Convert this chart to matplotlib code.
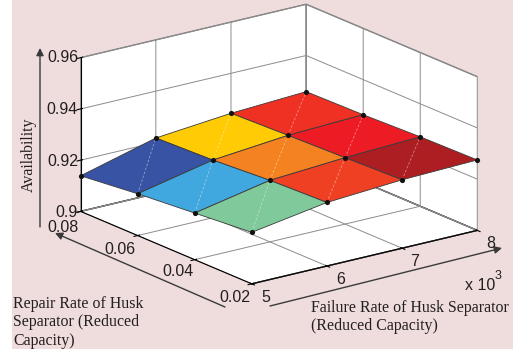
"""
Availability surface for the husk separator, failure rate vs repair rate.
"""

import numpy as np
import matplotlib
matplotlib.use("Agg")
import matplotlib.pyplot as plt
from matplotlib.colors import to_rgba
from matplotlib.patches import Rectangle, FancyArrowPatch

failure_rate = [5, 6, 7, 8]
repair_rate = [0.02, 0.04, 0.06, 0.08]

# rows follow repair_rate, columns follow failure_rate
availability = [
	[0.9201, 0.9248, 0.9267, 0.9275],
	[0.9182, 0.9240, 0.9259, 0.9271],
	[0.9163, 0.9225, 0.9252, 0.9263],
	[0.9139, 0.9217, 0.9244, 0.9259],
]

cell_colors = [
	["#7FC99B", "#F04023", "#AD1E23"],
	["#41A7DF", "#F58220", "#ED1C24"],
	["#3853A4", "#FFCB05", "#EF3123"],
]

z_ticks = [0.9, 0.92, 0.94, 0.96]
z_tick_labels = ["0.9", "0.92", "0.94", "0.96"]
y_tick_labels = ["0.02", "0.04", "0.06", "0.08"]
x_tick_labels = ["5", "6", "7", "8"]

pink = "#EFDCDC"
text_color = "#231F20"
W, H = 513, 351

plt.rcParams["font.family"] = ["Liberation Sans", "DejaVu Sans"]
plt.rcParams["grid.color"] = "#8C8C8C"
plt.rcParams["grid.linewidth"] = 0.7


def fx(px):
	return px / W


def fy(py):
	return 1 - py / H


fig = plt.figure(figsize=(W / 100, H / 100), dpi=100, facecolor="white")
fig.patches.append(Rectangle((fx(12), fy(349)), 1 - fx(12), fy(0) - fy(349), transform=fig.transFigure, facecolor=pink, edgecolor="none", zorder=-10))

side = 500
ax = fig.add_axes([fx(272.2 - side / 2), fy(150.8 + side / 2), side / W, side / H], projection="3d", computed_zorder=False)
ax.patch.set_alpha(0)
ax.set_proj_type("ortho")
ax.view_init(elev=18.46, azim=-126.8)
ax.set_box_aspect((284, 288, 163.4), zoom=0.84)

ax.set_xlim(5, 8, view_margin=0)
ax.set_ylim(0.02, 0.08, view_margin=0)
ax.set_zlim(0.9, 0.96, view_margin=0)

# mplot3d keeps its own label positions, so the tick labels are placed by hand below
ax.set_xticks(failure_rate, [""] * 4)
ax.set_yticks(repair_rate, [""] * 4)
ax.set_zticks(z_ticks, [""] * 4)

for axis in (ax.xaxis, ax.yaxis):
	axis.set_pane_color("white")
	axis.pane.set_edgecolor("#808080")
	axis.line.set_color("black")
ax.zaxis.set_pane_color("white")
ax.zaxis.pane.set_edgecolor("black")
ax.zaxis.line.set_color("black")

X, Y = np.meshgrid(failure_rate, repair_rate)
Z = np.array(availability)
colors = np.array([[to_rgba(c) for c in row] for row in cell_colors])
ax.plot_surface(X, Y, Z, facecolors=colors, rstride=1, cstride=1, shade=False, edgecolor="#3A3A3A", linewidth=0.6, zorder=2)

# faint diagonal of every quad
for i in range(3):
	for j in range(3):
		ax.plot([X[i, j], X[i + 1, j + 1]], [Y[i, j], Y[i + 1, j + 1]], [Z[i, j], Z[i + 1, j + 1]], color="white", alpha=0.45, linewidth=0.6, linestyle=(0, (3, 2)), zorder=3)

ax.scatter(X.ravel(), Y.ravel(), Z.ravel(), color="#111111", s=14, depthshade=False, linewidths=0, zorder=4)

tick_size = 11.5
for label, py in zip(z_tick_labels, [213, 161, 109, 57]):
	fig.text(fx(78), fy(py), label, fontsize=tick_size, color=text_color, ha="right", va="center")
for label, (px, py) in zip(y_tick_labels, [(235, 298), (178, 272), (120, 249), (63, 227)]):
	fig.text(fx(px), fy(py), label, fontsize=tick_size, color=text_color, ha="center", va="center")
for label, (px, py) in zip(x_tick_labels, [(266, 298), (341, 280), (415, 261), (491, 243)]):
	fig.text(fx(px), fy(py), label, fontsize=tick_size, color=text_color, ha="center", va="center")

serif = "Liberation Serif"
label_size = 11.4
fig.text(fx(29), fy(155), "Availability", family=serif, fontsize=label_size, color=text_color, rotation=90, ha="center", va="center")
fig.text(fx(13), fy(296), "Repair Rate of Husk\nSeparator (Reduced\nCapacity)", family=serif, fontsize=label_size, color=text_color, ha="left", va="top", linespacing=1.2)
fig.text(fx(311), fy(300), "Failure Rate of Husk Separator\n(Reduced Capacity)", family=serif, fontsize=label_size, color=text_color, ha="left", va="top", linespacing=1.2)
fig.text(fx(465), fy(285), "x 10", fontsize=tick_size, color=text_color, ha="left", va="center")
fig.text(fx(495), fy(276), "3", fontsize=9, color=text_color, ha="left", va="center")

for start, end in [((40, 227), (40, 48)), ((225, 307), (55, 233)), ((270, 306), (502, 248))]:
	fig.patches.append(FancyArrowPatch((fx(start[0]), fy(start[1])), (fx(end[0]), fy(end[1])), transform=fig.transFigure, arrowstyle="-|>", mutation_scale=11, shrinkA=0, shrinkB=0, color="#3A3A3A", linewidth=1.0))

fig.savefig("out.png", dpi=100)
